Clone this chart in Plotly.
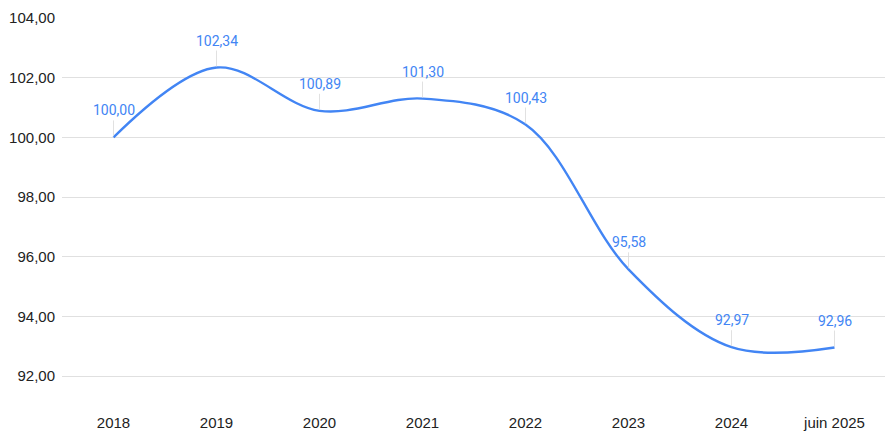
import plotly.graph_objects as go

categories = ["2018", "2019", "2020", "2021", "2022", "2023", "2024", "juin 2025"]
values = [100.00, 102.34, 100.89, 101.30, 100.43, 95.58, 92.97, 92.96]
y_ticks = [92, 94, 96, 98, 100, 102, 104]

blue = "#4285F4"

fig = go.Figure()
fig.add_trace(go.Scatter(
    x=list(range(len(categories))), y=values, mode="lines",
    line=dict(color=blue, width=2.4, shape="spline", smoothing=1.0),
    hoverinfo="skip",
))

for i, v in enumerate(values):
    fig.add_annotation(
        x=i, y=v, xref="x", yref="y",
        text=f"{v:.2f}".replace(".", ","),
        showarrow=True, arrowhead=0, arrowwidth=0.8, arrowcolor="#d9d9d9",
        ax=0, ay=-17, standoff=1, startstandoff=0,
        font=dict(family="Roboto, Arial, sans-serif", size=14, color=blue),
        yanchor="bottom",
    )

fig.update_layout(
    width=885, height=437,
    margin=dict(l=54, r=7, t=10, b=39),
    paper_bgcolor="white", plot_bgcolor="white",
    showlegend=False,
    separators=",.",
    font=dict(family="Liberation Sans, Arial, sans-serif", size=15, color="#222222"),
)
fig.update_xaxes(
    range=[-0.5, 7.5], tickvals=list(range(len(categories))), ticktext=categories,
    showgrid=False, zeroline=False, showline=False, ticks="",
    ticklabelstandoff=6, automargin=False,
    tickfont=dict(size=15, color="#222222"),
)
fig.update_yaxes(
    range=[91.0, 104.0], tickvals=y_ticks, tickformat=".2f",
    showgrid=True, gridcolor="#e0e0e0", gridwidth=1,
    zeroline=False, showline=False, ticks="",
    ticklabelstandoff=6, automargin=False,
    tickfont=dict(size=15, color="#222222"),
)

fig.write_html("out.html")
